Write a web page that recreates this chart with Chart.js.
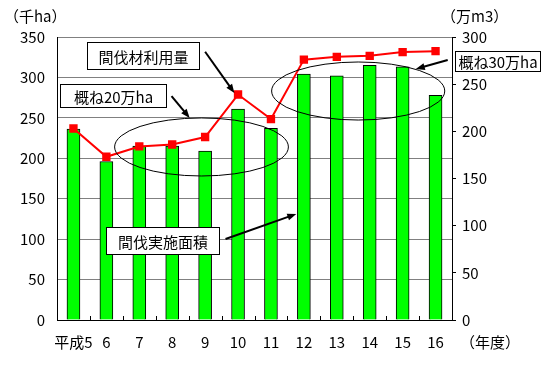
<!DOCTYPE html>
<html>
<head>
<meta charset="utf-8">
<script src="https://cdn.jsdelivr.net/npm/chart.js@4"></script>
<style>
  html, body { margin: 0; padding: 0; background: #fff; }
  #wrap { width: 543px; height: 365px; }
</style>
</head>
<body>
<div id="wrap"><canvas id="chart"></canvas></div>
<script>
const years = ['平成5', '6', '7', '8', '9', '10', '11', '12', '13', '14', '15', '16'];
const areaValues = [236, 196, 215, 215, 209, 261, 237, 304, 302, 315, 313, 278];   // 間伐実施面積 (千ha)
const timberValues = [203, 173, 184, 186, 194, 239, 213, 276, 279, 280, 284, 285]; // 間伐材利用量 (万m3)
const leftMax = 350;
const rightMax = 300;
const tickStep = 50;

const FONT = '"Noto Sans CJK JP", "Noto Sans", sans-serif';

// callouts, in data units (x = category index, y = left axis value)
const boxes = [
  { text: '間伐材利用量', x0: 0.42, x1: 3.80, y0: 343.8, y1: 310.4 },
  { text: '概ね20万ha', x0: -0.40, x1: 2.80, y0: 291.9, y1: 263.4 },
  { text: '概ね30万ha', x0: 11.60, x1: 14.16, y0: 333.0, y1: 308.3 },
  { text: '間伐実施面積', x0: 1.00, x1: 4.41, y0: 115.0, y1: 81.6 }
];
const arrows = [
  { x0: 4.00, y0: 331.8, x1: 4.89, y1: 280.7 },
  { x0: 2.98, y0: 277.0, x1: 3.53, y1: 249.8 },
  { x0: 11.37, y0: 321.5, x1: 10.40, y1: 310.4 },
  { x0: 4.62, y0: 100.2, x1: 6.77, y1: 131.1 }
];
const ellipses = [
  { cx: 3.89, cy: 214.0, rx: 2.64, ry: 35.9 },
  { cx: 8.65, cy: 283.2, rx: 2.63, ry: 35.9 }
];

const extras = {
  id: 'extras',
  afterDraw(chart) {
    const ctx = chart.ctx;
    const xs = chart.scales.x;
    const ys = chart.scales.y;
    const area = chart.chartArea;
    const px = v => xs.getPixelForValue(v);
    const py = v => ys.getPixelForValue(v);

    ctx.save();
    // small inward ticks between categories
    ctx.strokeStyle = '#000';
    ctx.lineWidth = 1;
    for (let i = 0; i <= years.length; i++) {
      const x = Math.round(px(i - 0.5)) + 0.5;
      ctx.beginPath();
      ctx.moveTo(x, area.bottom);
      ctx.lineTo(x, area.bottom - 4);
      ctx.stroke();
    }

    // unit labels
    ctx.fillStyle = '#000';
    ctx.font = '15px ' + FONT;
    ctx.textBaseline = 'middle';
    ctx.textAlign = 'left';
    ctx.fillText('（千ha）', 4, 16);
    ctx.fillText('（万m3）', 441, 16);
    ctx.fillText('（年度）', 460, 342);

    // ellipses
    ctx.lineWidth = 1;
    ellipses.forEach(e => {
      const cx = px(e.cx), cy = py(e.cy);
      const rx = px(e.cx + e.rx) - cx;
      const ry = cy - py(e.cy + e.ry);
      ctx.beginPath();
      ctx.ellipse(cx, cy, rx, ry, 0, 0, Math.PI * 2);
      ctx.stroke();
    });

    // arrows
    arrows.forEach(a => {
      const x0 = px(a.x0), y0 = py(a.y0), x1 = px(a.x1), y1 = py(a.y1);
      const ang = Math.atan2(y1 - y0, x1 - x0);
      const head = 9;
      ctx.lineWidth = 2;
      ctx.beginPath();
      ctx.moveTo(x0, y0);
      ctx.lineTo(x1 - Math.cos(ang) * head * 0.8, y1 - Math.sin(ang) * head * 0.8);
      ctx.stroke();
      ctx.beginPath();
      ctx.moveTo(x1, y1);
      ctx.lineTo(x1 - head * Math.cos(ang) + 3.5 * Math.sin(ang), y1 - head * Math.sin(ang) - 3.5 * Math.cos(ang));
      ctx.lineTo(x1 - head * Math.cos(ang) - 3.5 * Math.sin(ang), y1 - head * Math.sin(ang) + 3.5 * Math.cos(ang));
      ctx.closePath();
      ctx.fill();
    });

    // text boxes
    ctx.lineWidth = 1;
    ctx.textAlign = 'center';
    boxes.forEach(b => {
      const x0 = Math.round(px(b.x0)) + 0.5, x1 = Math.round(px(b.x1)) + 0.5;
      const y0 = Math.round(py(b.y0)) + 0.5, y1 = Math.round(py(b.y1)) + 0.5;
      ctx.fillStyle = '#fff';
      ctx.fillRect(x0, y0, x1 - x0, y1 - y0);
      ctx.strokeRect(x0, y0, x1 - x0, y1 - y0);
      ctx.fillStyle = '#000';
      ctx.fillText(b.text, (x0 + x1) / 2, (y0 + y1) / 2 + 1);
    });
    ctx.restore();
  }
};

new Chart(document.getElementById('chart'), {
  data: {
    labels: years,
    datasets: [
      {
        type: 'line',
        label: '間伐材利用量',
        data: timberValues,
        yAxisID: 'y1',
        order: 0,
        borderColor: '#ff0000',
        borderWidth: 2,
        pointStyle: 'rect',
        pointRadius: 4.5,
        pointBackgroundColor: '#ff0000',
        pointBorderColor: '#ff0000',
        tension: 0
      },
      {
        type: 'bar',
        label: '間伐実施面積',
        data: areaValues,
        yAxisID: 'y',
        order: 1,
        backgroundColor: '#00ff00',
        borderColor: '#000',
        borderWidth: 1,
        barThickness: 13
      }
    ]
  },
  options: {
    responsive: true,
    maintainAspectRatio: false,
    animation: false,
    layout: { padding: { top: 37, left: 0, right: 0, bottom: 0 } },
    plugins: { legend: { display: false }, tooltip: { enabled: false } },
    scales: {
      x: {
        offset: true,
        grid: { display: false },
        border: { display: true, color: '#000', width: 1 },
        ticks: { color: '#000', font: { size: 15, family: FONT }, padding: 5, maxRotation: 0, autoSkip: false },
        afterFit: s => { s.height = 45; }
      },
      y: {
        position: 'left',
        min: 0,
        max: leftMax,
        ticks: { stepSize: tickStep, color: '#000', font: { size: 15, family: FONT }, padding: 12 },
        grid: { color: '#808080', drawTicks: false },
        border: { color: '#000', width: 1 },
        afterFit: s => { s.width = 57; }
      },
      y1: {
        position: 'right',
        min: 0,
        max: rightMax,
        ticks: { stepSize: tickStep, color: '#000', font: { size: 15, family: FONT }, padding: 6 },
        grid: { drawOnChartArea: false, color: '#000', tickLength: 4 },
        border: { color: '#000', width: 1 },
        afterFit: s => { s.width = 91; }
      }
    }
  },
  plugins: [extras]
});
</script>
</body>
</html>
